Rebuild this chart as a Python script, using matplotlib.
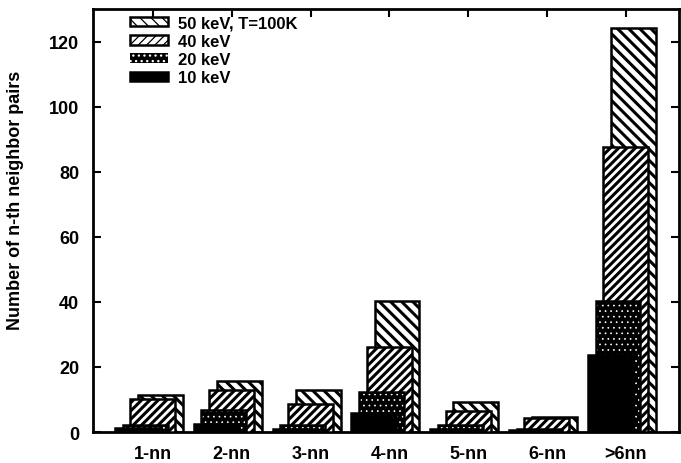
import numpy as np
import matplotlib
matplotlib.use('Agg')
import matplotlib.pyplot as plt

plt.rcParams['font.family'] = ['Liberation Sans', 'DejaVu Sans']
plt.rcParams['font.weight'] = 'bold'
plt.rcParams['hatch.linewidth'] = 2.2

categories = ['1-nn', '2-nn', '3-nn', '4-nn', '5-nn', '6-nn', '>6nn']
e10 = [1.2, 2.5, 1.0, 5.8, 1.0, 0.5, 23.7]  # 10 keV
e20 = [2.3, 6.7, 2.0, 12.3, 2.2, 0.8, 40.4]  # 20 keV
e40 = [10.2, 13.0, 8.6, 26.2, 6.6, 4.2, 87.6]  # 40 keV
e50 = [11.4, 15.8, 13.0, 40.3, 9.3, 4.7, 124.3]  # 50 keV, T=100K

W = 0.57  # bar width
D = 0.098  # shift between series
x = np.arange(len(categories))

fig = plt.figure(figsize=(6.81, 4.64), dpi=100)
ax = fig.add_axes([0.1366, 0.0668, 0.8604, 0.9114])

# back to front: 50, 40, 20, 10 keV
ax.bar(x - 0.05 + 1.5*D, e50, W, facecolor='white', edgecolor='black',
       hatch='\\\\\\', linewidth=1.8, zorder=2, label='50 keV, T=100K')
ax.bar(x - 0.05 + 0.5*D, e40, W, facecolor='white', edgecolor='black',
       hatch='////', linewidth=1.8, zorder=3, label='40 keV')
with plt.rc_context({'hatch.linewidth': 0.5}):
    ax.bar(x - 0.05 - 0.5*D, e20, W, facecolor='black', edgecolor='white',
           hatch='...', linewidth=0, zorder=4, label='20 keV')
ax.bar(x - 0.05 - 0.5*D, e20, W, fill=False, edgecolor='black',
       linewidth=1.8, zorder=4.5)
ax.bar(x - 0.05 - 1.5*D, e10, W, facecolor='black', edgecolor='black',
       linewidth=1.8, zorder=5, label='10 keV')

ax.set_xlim(-0.76, 6.675)
ax.set_ylim(0, 130)
ax.set_xticks(x)
ax.set_xticklabels(categories, fontsize=13, fontweight='bold')
ax.set_yticks(np.arange(0, 121, 20))
ax.tick_params(axis='y', direction='in', length=6, width=1.5, labelsize=13,
               pad=10, right=True)
ax.tick_params(axis='x', direction='in', length=6, width=1.5, labelsize=13,
               pad=9, top=True)
for s in ax.spines.values():
    s.set_linewidth(2)

ax.set_ylabel('Number of n-th neighbor pairs', fontsize=13, fontweight='bold')
ax.yaxis.set_label_coords(-0.117, 0.55)

handles, labels = ax.get_legend_handles_labels()
with plt.rc_context({'hatch.linewidth': 0.9}):
    ax.legend(handles, labels, loc='upper left', bbox_to_anchor=(0.063, 0.985),
              frameon=False, handlelength=2.3, handleheight=0.5,
              handletextpad=0.6, labelspacing=0.2, borderpad=0, borderaxespad=0,
              prop={'weight': 'bold', 'size': 12})

fig.savefig('out.png', dpi=100)
